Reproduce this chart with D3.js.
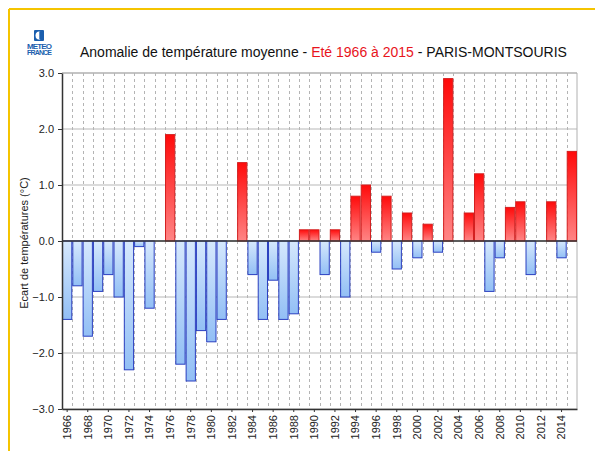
<!DOCTYPE html>
<html>
<head>
<meta charset="utf-8">
<script src="https://cdn.jsdelivr.net/npm/d3@7"></script>
<style>
  body { margin:0; background:#fff; }
  svg { display:block; font-family: Arial, "Liberation Sans", sans-serif; }
  .axis path, .axis line { stroke:#333; }
  .axis text { fill:#222; font-size:11px; }
</style>
</head>
<body>
<div id="chart"></div>
<script>
// Summer temperature anomaly, Paris-Montsouris, 1966-2015
const years = d3.range(1966, 2016);
const anomalies = [
  -1.4, -0.8, -1.7, -0.9, -0.6, -1.0, -2.3, -0.1, -1.2, 0.0,   // 1966-1975
   1.9, -2.2, -2.5, -1.6, -1.8, -1.4,  0.0,  1.4, -0.6, -1.4,  // 1976-1985
  -0.7, -1.4, -1.3,  0.2,  0.2, -0.6,  0.2, -1.0,  0.8,  1.0,  // 1986-1995
  -0.2,  0.8, -0.5,  0.5, -0.3,  0.3, -0.2,  2.9,  0.0,  0.5,  // 1996-2005
   1.2, -0.9, -0.3,  0.6,  0.7, -0.6,  0.0,  0.7, -0.3,  1.6   // 2006-2015
];
const yTicks = [3, 2, 1, 0, -1, -2, -3];
const xTickYears = years.filter(y => (y - 1966) % 2 === 0);

const data = years.map((y, i) => ({Year:y, v:anomalies[i]}));

const width = 598, height = 451;
const plot = {left:62, right:577, top:73, bottom:409};

const svg = d3.select("#chart").append("svg")
  .attr("width", width).attr("height", height);

// yellow frame (top + left)
svg.append("line").attr("x1",9).attr("x2",595).attr("y1",9).attr("y2",9)
  .attr("stroke","#f5c400").attr("stroke-width",2);
svg.append("line").attr("x1",9).attr("x2",9).attr("y1",9).attr("y2",451)
  .attr("stroke","#f5c400").attr("stroke-width",2);

// gradients
const defs = svg.append("defs");
const gRed = defs.append("linearGradient").attr("id","gRed")
  .attr("x1",0).attr("y1",0).attr("x2",0).attr("y2",1);
gRed.append("stop").attr("offset","0%").attr("stop-color","#ff0a0a");
gRed.append("stop").attr("offset","100%").attr("stop-color","#ff8585");
const gBlue = defs.append("linearGradient").attr("id","gBlue")
  .attr("x1",0).attr("y1",0).attr("x2",0).attr("y2",1);
gBlue.append("stop").attr("offset","0%").attr("stop-color","#d6e8fd");
gBlue.append("stop").attr("offset","100%").attr("stop-color","#92bff5");

const x = d3.scaleBand().domain(years).range([plot.left, plot.right])
  .paddingInner(0.1).paddingOuter(0.05);
const y = d3.scaleLinear().domain([-3, 3]).range([plot.bottom, plot.top]);

// horizontal grid
svg.append("g").selectAll("line").data(yTicks).join("line")
  .attr("x1", plot.left).attr("x2", plot.right)
  .attr("y1", d => y(d)).attr("y2", d => y(d))
  .attr("stroke", d => d === 3 ? "#c4c4c4" : "#b8b8b8")
  .attr("stroke-width", d => d === 3 ? 2 : 1.2);

// vertical dashed grid at band boundaries
const step = x.step();
svg.append("g").selectAll("line").data(years.slice(1)).join("line")
  .attr("x1", d => Math.round(plot.left + step * (d - 1966)) + 0.5)
  .attr("x2", d => Math.round(plot.left + step * (d - 1966)) + 0.5)
  .attr("y1", plot.top).attr("y2", plot.bottom)
  .attr("stroke", "#b4b4b4").attr("stroke-width", 1)
  .attr("stroke-dasharray", "3,3");

// right border
svg.append("line").attr("x1", plot.right).attr("x2", plot.right)
  .attr("y1", plot.top).attr("y2", plot.bottom)
  .attr("stroke", "#b0b0b0").attr("stroke-width", 1);

// bars
svg.append("g").selectAll("rect").data(data.filter(d => d.v !== 0)).join("rect")
  .attr("x", d => x(d.Year))
  .attr("width", x.bandwidth())
  .attr("y", d => y(Math.max(0, d.v)))
  .attr("height", d => Math.abs(y(d.v) - y(0)))
  .attr("fill", d => d.v > 0 ? "url(#gRed)" : "url(#gBlue)")
  .attr("stroke", d => d.v > 0 ? "#d42020" : "#2a3fc0")
  .attr("stroke-width", 1);

// zero line
svg.append("line").attr("x1", plot.left).attr("x2", plot.right)
  .attr("y1", y(0)).attr("y2", y(0))
  .attr("stroke", "#333").attr("stroke-width", 1.5);

// y axis
const yAxis = svg.append("g").attr("class","axis")
  .attr("transform", `translate(${plot.left},0)`)
  .call(d3.axisLeft(y).tickValues(yTicks).tickFormat(d3.format(".1f")).tickSize(4).tickSizeOuter(0));
yAxis.select(".domain").attr("stroke-width", 1.5);
yAxis.selectAll("text").attr("x", -8);

// x axis
const xAxis = svg.append("g").attr("class","axis")
  .attr("transform", `translate(0,${plot.bottom})`)
  .call(d3.axisBottom(x).tickValues(xTickYears).tickSize(3).tickSizeOuter(0));
xAxis.select(".domain").attr("stroke-width", 1.5);
xAxis.selectAll("text")
  .attr("transform", "rotate(-90)")
  .attr("text-anchor", "end")
  .attr("x", -6).attr("y", 0).attr("dy", "0.35em");

// y title
svg.append("text")
  .attr("transform", "translate(28,243) rotate(-90)")
  .attr("text-anchor", "middle")
  .attr("font-size", 11).attr("fill", "#222")
  .text("Ecart de températures (°C)");

// title
const title = svg.append("text").attr("x", 80).attr("y", 57)
  .attr("font-size", 14).attr("fill", "#111");
title.append("tspan").text("Anomalie de température moyenne - ");
title.append("tspan").attr("fill", "#e8141c").text("Eté 1966 à 2015");
title.append("tspan").text(" - PARIS-MONTSOURIS");

// Meteo France logo
const logo = svg.append("g");
logo.append("rect").attr("x", 34).attr("y", 30).attr("width", 10).attr("height", 11)
  .attr("rx", 1).attr("fill", "#1b5fae");
logo.append("path").attr("d", "M40.5,32 A3.4,4 0 1 0 40.5,39 L39.3,39 L39.3,32 Z")
  .attr("fill", "#fff");
logo.append("text").attr("x", 39.5).attr("y", 48.5).attr("text-anchor", "middle")
  .attr("font-size", 8).attr("font-weight", "bold").attr("fill", "#1b5fae")
  .attr("textLength", 25).text("METEO");
logo.append("text").attr("x", 39.5).attr("y", 55).attr("text-anchor", "middle")
  .attr("font-size", 7).attr("font-weight", "bold").attr("fill", "#1b5fae")
  .attr("textLength", 25).text("FRANCE");
</script>
</body>
</html>
